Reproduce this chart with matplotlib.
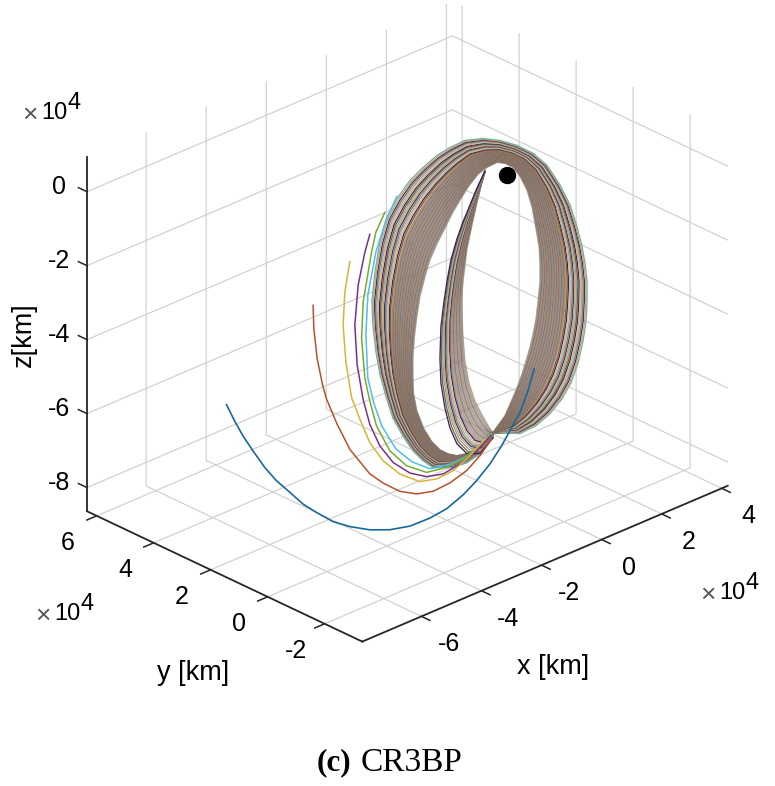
"""CR3BP trajectories around the Moon, 3D view."""

import matplotlib

matplotlib.use("Agg")
import matplotlib.pyplot as plt
import numpy as np

# everything in units of 1e4 km
x_ticks = [-6, -4, -2, 0, 2, 4]
y_ticks = [-2, 0, 2, 4, 6]
z_ticks = [-8, -6, -4, -2, 0]
x_lim = (-7.97, 4.2)
y_lim = (-3.32, 6.34)
z_lim = (-8.64, 0.93)

moon = (0, 0, 0)

# edges of the thick ring, same point count each
ring_outer_x = [-0.167, 0.433, 0.967, 1.433, 1.833, 2.133, 2.367, 2.533, 2.633, 2.667, 2.667, 2.6, 2.5, 2.333, 2.1,
                1.767, 1.333, 0.867, 0.333, -0.233, -0.8, -1.4, -1.9, -2.333, -2.8, -3.233, -3.633, -4.0, -4.233,
                -4.4, -4.5, -4.467, -4.367, -4.233, -4.033, -3.8, -3.467, -3.133, -2.8, -2.467, -1.8, -1.333, -1.0,
                -0.467]
ring_outer_z = [-6.905, -7.138, -7.107, -6.945, -6.679, -6.352, -5.895, -5.36, -4.858, -4.331, -3.793, -3.286, -2.795,
                -2.201, -1.528, -0.877, -0.19, 0.293, 0.691, 1.021, 1.27, 1.423, 1.407, 1.341, 1.178, 0.978, 0.659,
                0.247, -0.345, -1.094, -1.866, -2.495, -3.256, -3.92, -4.581, -5.252, -5.85, -6.368, -6.752, -7.054,
                -7.284, -7.31, -7.237, -6.936]
ring_inner_x = [-0.467, -0.067, 0.133, 0.333, 0.5, 0.633, 0.767, 0.867, 0.967, 1.033, 1.1, 1.1, 1.067, 0.967, 0.833,
                0.667, 0.433, 0.2, -0.067, -0.333, -0.667, -0.967, -1.3, -1.567, -1.8, -2.067, -2.333, -2.567, -2.733,
                -2.9, -3.01, -3.083, -3.133, -3.133, -3.117, -3.0, -2.767, -2.5, -2.233, -1.967, -1.667, -1.333,
                -0.967, -0.567]
ring_inner_z = [-6.801, -6.482, -6.175, -5.868, -5.548, -5.245, -4.915, -4.599, -4.204, -3.769, -3.254, -2.77, -2.302,
                -1.785, -1.147, -0.632, -0.176, 0.146, 0.346, 0.464, 0.444, 0.36, 0.124, -0.133, -0.376, -0.714,
                -1.052, -1.402, -1.802, -2.282, -2.836, -3.294, -3.814, -4.352, -4.815, -5.339, -5.903, -6.344, -6.651,
                -6.85, -7.008, -7.068, -7.086, -6.929]

# edges of the narrow band inside the ring
band_left_x = [-0.733, -1.0, -1.233, -1.467, -1.667, -1.867, -2.0, -2.1, -2.2, -2.233, -2.2, -2.067, -1.9, -1.667,
               -1.333, -0.9, -0.467]
band_left_z = [0.36, -0.005, -0.382, -0.758, -1.147, -1.643, -2.188, -2.692, -3.329, -4.178, -4.861, -5.579, -6.174,
               -6.685, -7.068, -7.217, -6.936]
band_right_x = [-0.733, -0.867, -1.0, -1.167, -1.333, -1.4, -1.467, -1.5, -1.5, -1.467, -1.4, -1.267, -1.067, -0.867,
                -0.7, -0.567, -0.467]
band_right_z = [0.36, 0.002, -0.382, -0.943, -1.53, -1.964, -2.371, -2.764, -3.167, -3.85, -4.545, -5.182, -5.735,
                -6.127, -6.426, -6.66, -6.801]

# where each orbit sits between the two edges, 0 inner, 1 outer
ring_fractions = [0.0, 0.008, 0.015, 0.022, 0.03, 0.038, 0.045, 0.052, 0.06, 0.068, 0.075, 0.082, 0.09, 0.098, 0.105,
                  0.112, 0.12, 0.128, 0.135, 0.142, 0.15, 0.158, 0.165, 0.172, 0.18, 0.188, 0.195, 0.202, 0.21, 0.218,
                  0.225, 0.232, 0.24, 0.248, 0.255, 0.262, 0.27, 0.278, 0.285, 0.292, 0.3, 0.308, 0.315, 0.322, 0.33,
                  0.338, 0.345, 0.352, 0.36, 0.368, 0.375, 0.382, 0.39, 0.398, 0.405, 0.412, 0.42, 0.428, 0.435, 0.442,
                  0.45, 0.458, 0.465, 0.472, 0.48, 0.488, 0.495, 0.502, 0.51, 0.518, 0.525, 0.532, 0.54, 0.548, 0.555,
                  0.58, 0.608, 0.636, 0.664, 0.692, 0.72, 0.748, 0.776, 0.804, 0.832, 0.86, 0.888, 0.916, 0.944, 0.972,
                  1.0]
band_fractions = [0.0, 0.02, 0.04, 0.06, 0.08, 0.1, 0.12, 0.14, 0.16, 0.18, 0.2, 0.22, 0.24, 0.26, 0.28, 0.3, 0.32,
                  0.34, 0.36, 0.38, 0.4, 0.42, 0.44, 0.46, 0.48, 0.5, 0.52, 0.54, 0.58, 0.63, 0.68, 0.73, 0.78, 0.83,
                  0.88, 0.94, 1.0]

# single trajectories that leave the ring on the left
blue_x = [-7.443, -7.167, -6.89, -6.557, -6.167, -5.777, -5.333, -6.79, -6.343, -5.79, -5.233, -4.567, -3.9, -3.233,
          -2.567, -2.01, -1.457, -1.01, -0.567, -0.177, 0.157, 0.433, 0.7, 0.9]
blue_y = [2, 2, 2, 2, 2, 2, 2, 0, 0, 0, 0, 0, 0, 0, 0, 0, 0, 0, 0, 0, 0, 0, 0, 0]
blue_z = [-4.357, -4.901, -5.399, -5.916, -6.5, -6.991, -7.458, -6.543, -6.923, -7.363, -7.689, -8.007, -8.236, -8.369,
          -8.383, -8.322, -8.136, -7.906, -7.609, -7.251, -6.874, -6.566, -6.074, -5.552]
red_x = [-6.457, -6.433, -6.323, -6.143, -6.017, -5.677, -5.233, -4.567, -4.123, -3.567, -3.01, -2.457, -1.9, -1.343,
         -0.9, -0.51]
red_z = [-1.282, -1.919, -2.763, -3.54, -3.952, -4.732, -5.601, -6.494, -6.897, -7.313, -7.575, -7.695, -7.661, -7.522,
         -7.271, -6.957]
yellow_x = [-5.233, -5.4, -5.457, -5.367, -5.177, -4.9, -4.567, -4.123, -3.567, -2.9, -2.343, -1.79, -1.233, -0.733]
yellow_z = [-0.52, -1.287, -2.163, -3.181, -4.214, -4.9, -5.652, -6.297, -6.846, -7.282, -7.401, -7.368, -7.157, -6.88]
purple_x = [-4.567, -4.733, -4.957, -5.067, -4.99, -4.79, -4.567, -4.233, -3.79, -3.233, -2.677, -2.123, -1.567, -1.01,
            -0.533]
purple_z = [-0.015, -0.442, -1.26, -2.297, -3.399, -4.408, -5.157, -5.856, -6.457, -6.934, -7.224, -7.343, -7.265,
            -7.099, -6.86]
green_x = [-4.067, -4.367, -4.51, -4.79, -4.843, -4.733, -4.567, -4.343, -3.9, -3.343, -2.677, -2.01, -1.457, -0.9,
           -0.533]
green_z = [0.404, -0.03, -0.519, -1.766, -2.735, -3.848, -4.531, -5.28, -6.104, -6.699, -7.109, -7.204, -7.168, -7.002,
           -6.833]
cyan_x = [-3.667, -4.033, -4.367, -4.633, -4.7, -4.633, -4.433, -4.167, -3.7, -3.167, -2.567, -1.933, -1.367, -0.867,
          -0.533]
cyan_z = [0.696, 0.177, -0.568, -1.632, -2.684, -3.89, -4.631, -5.341, -6.119, -6.653, -7.047, -7.158, -7.138, -6.987,
          -6.806]

colors = ["#0072BD", "#D95319", "#EDB120", "#7E2F8E", "#77AC30", "#4DBEEE", "#A2142F"]
# the outer stripes look softer than the plain cycle in the picture
stripe_colors = ["#2C3A78", "#E59A5C", "#6FB3A6", "#8C5A3C", "#33285F", "#EDAE6E", "#7FB7C4", "#A5744E"]
axis_color = "#262626"

plt.rcParams["font.family"] = ["Liberation Sans", "DejaVu Sans"]
plt.rcParams["grid.color"] = "#d2d2d2"
plt.rcParams["grid.linewidth"] = 0.9

fig = plt.figure(figsize=(7.75, 7.86), dpi=100)
ax_px = 700
ax = fig.add_axes([47.9 / 775, 105 / 786, ax_px / 775, ax_px / 786], projection="3d",
                  proj_type="ortho", computed_zorder=False)
ax.patch.set_alpha(0)
ax.view_init(elev=26.7, azim=-133.5)
ax.set_box_aspect((x_lim[1] - x_lim[0], y_lim[1] - y_lim[0], z_lim[1] - z_lim[0]), zoom=1.0477)


def draw_family(first, second, fractions):
    # second is the edge at fraction 1, dense part blends to brown through alpha
    for i, frac in enumerate(fractions):
        pts = first + frac * (second - first)
        if frac < 0.56:
            ax.plot(pts[0], np.zeros(pts.shape[1]), pts[1], color=colors[i % 7], linewidth=1.0, alpha=0.42)
        else:
            ax.plot(pts[0], np.zeros(pts.shape[1]), pts[1], color=stripe_colors[i % 8], linewidth=0.95)


draw_family(np.array([ring_inner_x, ring_inner_z]), np.array([ring_outer_x, ring_outer_z]), ring_fractions)
draw_family(np.array([band_right_x, band_right_z]), np.array([band_left_x, band_left_z]), band_fractions)

# tails, blue last so it stays on top
tails = [(cyan_x, cyan_z, colors[5]), (green_x, green_z, colors[4]), (purple_x, purple_z, colors[3]),
         (yellow_x, yellow_z, "#D9B43A"), (red_x, red_z, "#B9512A")]
for tx, tz, c in tails:
    ax.plot(tx, np.zeros(len(tx)), tz, color=c, linewidth=1.1)
ax.plot(blue_x, blue_y, blue_z, color="#17699B", linewidth=1.2)

ax.plot([moon[0]], [moon[1]], [moon[2]], "o", color="black", markersize=11.5)

# axis lines and tick stubs are drawn by hand, matlab puts them on other edges
ax.plot(x_lim, [y_lim[0]] * 2, [z_lim[0]] * 2, color=axis_color, linewidth=1.3)
ax.plot([x_lim[0]] * 2, y_lim, [z_lim[0]] * 2, color=axis_color, linewidth=1.3)
ax.plot([x_lim[0]] * 2, [y_lim[1]] * 2, z_lim, color=axis_color, linewidth=1.3)
for t in x_ticks:
    ax.plot([t, t], [y_lim[0], y_lim[0] - 0.3], [z_lim[0]] * 2, color=axis_color, linewidth=1.1)
    ax.text(t, y_lim[0] - 0.95, z_lim[0] - 0.41, str(t), ha="center", va="center", fontsize=18)
for t in y_ticks:
    ax.plot([x_lim[0], x_lim[0] - 0.33], [t, t], [z_lim[0]] * 2, color=axis_color, linewidth=1.1)
    ax.text(x_lim[0] - 0.95, t, z_lim[0] - 0.4, str(t), ha="center", va="center", fontsize=18)
for t in z_ticks:
    ax.plot([x_lim[0]] * 2, [y_lim[1], y_lim[1] + 0.3], [t, t], color=axis_color, linewidth=1.1)
    ax.text(x_lim[0], y_lim[1] + 0.97, t - 0.22, str(t), ha="center", va="center", fontsize=18)

ax.set_xlim(x_lim)
ax.set_ylim(y_lim)
ax.set_zlim(z_lim)
ax.set_xticks(x_ticks)
ax.set_yticks(y_ticks)
ax.set_zticks(z_ticks)
ax.set_xticklabels([])
ax.set_yticklabels([])
ax.set_zticklabels([])
for axis in (ax.xaxis, ax.yaxis, ax.zaxis):
    axis.set_pane_color((1, 1, 1, 0))
    axis.pane.set_edgecolor((1, 1, 1, 0))
    axis.line.set_color((1, 1, 1, 0))
    axis.set_tick_params(color=(1, 1, 1, 0))
ax.grid(True)


def fig_text(px, py, s, **kw):
    fig.text(px / 775, 1 - py / 786, s, va="center", **kw)


fig_text(24, 335, "z[km]", ha="center", fontsize=19.5, rotation=90)
fig_text(193, 673, "y [km]", ha="center", fontsize=19.5)
fig_text(553, 667, "x [km]", ha="center", fontsize=19.5)

# the three x10^4 multipliers
for tx, ty in [(30, 115), (43, 616), (708, 595)]:
    fig_text(tx, ty, "\u00d7", ha="center", fontsize=19, color="#555555")
    fig_text(tx + 24, ty - 2, "10", ha="center", fontsize=17)
    fig_text(tx + 44, ty - 12, "4", ha="center", fontsize=17)

fig_text(317, 763, "(c)", ha="left", fontsize=22.5, family="Liberation Serif", weight="bold")
fig_text(361, 763, "CR3BP", ha="left", fontsize=24, family="Liberation Serif")

fig.savefig("out.png", dpi=100)
plt.close(fig)
